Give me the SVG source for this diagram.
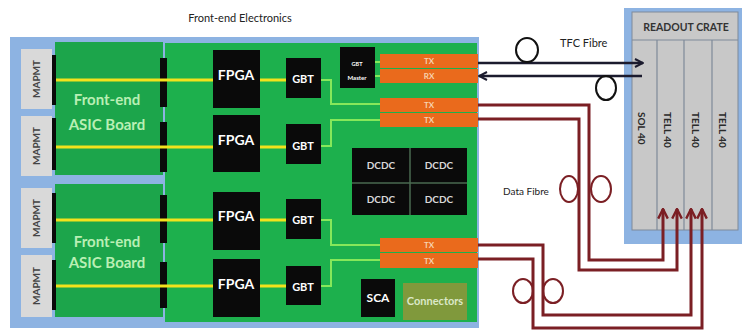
<svg xmlns="http://www.w3.org/2000/svg" width="742" height="330" viewBox="0 0 742 330">
<defs>
<style>
text{font-family:Lato,"Liberation Sans",sans-serif}
.blk{fill:#0a0a0a}
.wt{fill:#ffffff;font-weight:bold;text-anchor:middle}
.mp{fill:#d9d9d9}
.mpt{fill:#444;font-weight:bold;font-size:10px;text-anchor:middle}
.asic{fill:#1ca54b}
.asict{fill:#b9efb4;font-weight:bold;font-size:15px;text-anchor:middle}
.yl{stroke:#f2e21c;stroke-width:3;fill:none}
.gl{stroke:#86e85a;stroke-width:2;fill:none}
.or{fill:#ea6a1c}
.ort{fill:#f7d2b0;font-size:8px;font-weight:bold;text-anchor:middle}
.dc{fill:#d8d8d8;font-weight:bold;font-size:10px;text-anchor:middle}
.red{stroke:#7b1f24;stroke-width:3;fill:none}
.loop{stroke:#7b1f24;stroke-width:2;fill:none}
.tfc{stroke:#1b1b2e;stroke-width:2.5;fill:none}
.tloop{stroke:#111;stroke-width:2;fill:none}
.slot{fill:#2a2a2a;font-weight:bold;font-size:10px}
</style>
<marker id="ab" viewBox="0 0 10 10" refX="9" refY="5" markerWidth="4" markerHeight="4" orient="auto" markerUnits="strokeWidth">
<path d="M1,1 L9,5 L1,9" fill="none" stroke="#1b1b2e" stroke-width="2"/>
</marker>
<marker id="ar" viewBox="0 0 10 10" refX="9" refY="5" markerWidth="4" markerHeight="4" orient="auto" markerUnits="strokeWidth">
<path d="M1,1 L9,5 L1,9" fill="none" stroke="#7b1f24" stroke-width="2"/>
</marker>
</defs>
<rect width="742" height="330" fill="#ffffff"/>
<text x="240" y="22" font-size="11" fill="#222" text-anchor="middle">Front-end Electronics</text>

<g id="frontend-box">
<rect x="10" y="37" width="469" height="291" fill="#8db3e2"/>
</g>

<g id="main-board">
<rect x="165" y="43" width="312" height="279" fill="#1db04d"/>
</g>

<g id="asic-board-1">
<rect class="asic" x="55" y="42" width="108" height="133"/>
<rect class="blk" x="52" y="55" width="4" height="50"/>
<rect class="blk" x="52" y="118" width="4" height="52"/>
<rect class="blk" x="160" y="58" width="7" height="49"/>
<rect class="blk" x="160" y="122" width="7" height="50"/>
<text class="asict" x="107" y="105">Front-end</text>
<text class="asict" x="107" y="130">ASIC Board</text>
</g>
<g id="asic-board-2">
<rect class="asic" x="55" y="184" width="108" height="133"/>
<rect class="blk" x="52" y="193" width="4" height="50"/>
<rect class="blk" x="52" y="260" width="4" height="50"/>
<rect class="blk" x="160" y="195" width="7" height="48"/>
<rect class="blk" x="160" y="262" width="7" height="46"/>
<text class="asict" x="107" y="247">Front-end</text>
<text class="asict" x="107" y="268">ASIC Board</text>
</g>

<g id="mapmt-1"><rect class="mp" x="21" y="49" width="31" height="60"/><text class="mpt" transform="translate(40,79) rotate(-90)">MAPMT</text></g>
<g id="mapmt-2"><rect class="mp" x="21" y="116" width="31" height="60"/><text class="mpt" transform="translate(40,146) rotate(-90)">MAPMT</text></g>
<g id="mapmt-3"><rect class="mp" x="21" y="188" width="31" height="60"/><text class="mpt" transform="translate(40,218) rotate(-90)">MAPMT</text></g>
<g id="mapmt-4"><rect class="mp" x="21" y="255" width="31" height="62"/><text class="mpt" transform="translate(40,286) rotate(-90)">MAPMT</text></g>

<g id="readout-crate">
<rect x="624" y="8" width="118" height="236" fill="#8db3e2"/>
<rect x="632" y="12" width="106" height="218" fill="#c8c8c8" stroke="#7f8a99" stroke-width="1"/>
<line x1="632" y1="40" x2="738" y2="40" stroke="#7f8a99" stroke-width="1"/>
<text x="686" y="31" font-size="10.5" font-weight="bold" fill="#333" text-anchor="middle">READOUT CRATE</text>
<path d="M657,40 V230 M684,40 V230 M712,40 V230" stroke="#7f8a99" stroke-width="1.2"/>
</g>
<g id="sol40"><text class="slot" transform="translate(638,112) rotate(90)">SOL 40</text></g>
<g id="tell40-1"><text class="slot" transform="translate(664,112) rotate(90)">TELL 40</text></g>
<g id="tell40-2"><text class="slot" transform="translate(692,112) rotate(90)">TELL 40</text></g>
<g id="tell40-3"><text class="slot" transform="translate(719,112) rotate(90)">TELL 40</text></g>

<g id="connectors">
<path class="yl" d="M56,80 H213 M260,80 H286"/>
<path class="yl" d="M56,147 H213 M260,147 H286"/>
<path class="yl" d="M56,220 H213 M260,220 H286"/>
<path class="yl" d="M56,286 H213 M260,286 H286"/>
<path class="gl" d="M321,80 H331 V104 H380"/>
<path class="gl" d="M321,146 H331 V120 H380"/>
<path class="gl" d="M321,220 H331 V245 H380"/>
<path class="gl" d="M321,286 H331 V260 H380"/>
<path class="gl" d="M375,62 H380 M375,76 H380" stroke-width="1.5"/>
<path class="tfc" d="M478,63 H643" marker-end="url(#ab)"/>
<path class="tfc" d="M642,76 H479" marker-end="url(#ab)"/>
<ellipse class="tloop" cx="527" cy="50" rx="11" ry="12"/>
<ellipse class="tloop" cx="606" cy="88" rx="10" ry="12"/>
<path class="red" d="M478,105 H589 V260 H663 V209" marker-end="url(#ar)"/>
<path class="red" d="M478,119 H579 V270 H677 V209" marker-end="url(#ar)"/>
<path class="red" d="M478,245 H543 V315 H691 V209" marker-end="url(#ar)"/>
<path class="red" d="M478,259 H533 V328 H702 V209" marker-end="url(#ar)"/>
<ellipse class="loop" cx="569" cy="189" rx="9" ry="13"/>
<ellipse class="loop" cx="601" cy="189" rx="10" ry="13"/>
<ellipse class="loop" cx="523" cy="291" rx="10" ry="12"/>
<ellipse class="loop" cx="553" cy="291" rx="10" ry="12"/>
</g>

<g id="fpga-1"><rect class="blk" x="213" y="50" width="47" height="58"/><text class="wt" x="236" y="80" font-size="14">FPGA</text></g>
<g id="fpga-2"><rect class="blk" x="213" y="115" width="47" height="57"/><text class="wt" x="236" y="145" font-size="14">FPGA</text></g>
<g id="fpga-3"><rect class="blk" x="213" y="192" width="47" height="58"/><text class="wt" x="236" y="221" font-size="14">FPGA</text></g>
<g id="fpga-4"><rect class="blk" x="213" y="259" width="47" height="58"/><text class="wt" x="236" y="289" font-size="14">FPGA</text></g>

<g id="gbt-1"><rect class="blk" x="286" y="58" width="35" height="40"/><text class="wt" x="303" y="83" font-size="11">GBT</text></g>
<g id="gbt-2"><rect class="blk" x="286" y="124" width="35" height="40"/><text class="wt" x="303" y="150" font-size="11">GBT</text></g>
<g id="gbt-3"><rect class="blk" x="286" y="199" width="35" height="40"/><text class="wt" x="303" y="224" font-size="11">GBT</text></g>
<g id="gbt-4"><rect class="blk" x="286" y="266" width="35" height="39"/><text class="wt" x="303" y="291" font-size="11">GBT</text></g>

<g id="gbt-master"><rect class="blk" x="340" y="47" width="35" height="41"/><text class="wt" x="357" y="66" font-size="5.5" fill="#ddd">GBT</text><text class="wt" x="357" y="80" font-size="6">Master</text></g>

<g id="tx-rx-1">
<rect class="or" x="380" y="54" width="98" height="14"/><rect class="or" x="380" y="69" width="98" height="14"/>
<text class="ort" x="429" y="64">TX</text><text class="ort" x="429" y="79">RX</text>
</g>
<g id="tx-tx-2">
<rect class="or" x="380" y="98" width="98" height="14"/><rect class="or" x="380" y="113" width="98" height="14"/>
<text class="ort" x="429" y="108">TX</text><text class="ort" x="429" y="123">TX</text>
</g>
<g id="tx-tx-3">
<rect class="or" x="380" y="238" width="98" height="14"/><rect class="or" x="380" y="253" width="98" height="15"/>
<text class="ort" x="429" y="248">TX</text><text class="ort" x="429" y="264">TX</text>
</g>

<g id="dcdc">
<rect class="blk" x="352" y="148" width="115" height="67"/>
<path d="M410,148 V215 M352,183 H467" stroke="#4a6a50" stroke-width="1.5"/>
<text class="dc" x="381" y="169">DCDC</text><text class="dc" x="439" y="169">DCDC</text>
<text class="dc" x="381" y="203">DCDC</text><text class="dc" x="439" y="203">DCDC</text>
</g>

<g id="sca"><rect class="blk" x="361" y="279" width="34" height="38"/><text class="wt" x="378" y="302" font-size="12">SCA</text></g>
<g id="connectors-box"><rect x="403" y="283" width="64" height="37" fill="#80993c"/><text x="435" y="305" font-size="11" font-weight="bold" fill="#dbe8c8" text-anchor="middle">Connectors</text></g>

<text x="560" y="47" font-size="11" fill="#222">TFC Fibre</text>
<text x="503" y="195" font-size="10" fill="#222">Data Fibre</text>
</svg>
